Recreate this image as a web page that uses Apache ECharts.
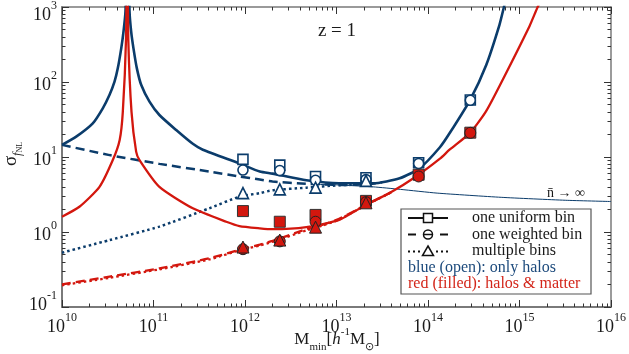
<!DOCTYPE html>
<html>
<head>
<meta charset="utf-8">
<script src="https://cdn.jsdelivr.net/npm/echarts@6/dist/echarts.min.js"></script>
<style>
  html, body { margin: 0; padding: 0; background: #fff; }
  #chart { width: 629px; height: 354px; }
</style>
</head>
<body>
<div id="chart"></div>
<script>
// values (M_min in h^-1 Msun, sigma_fNL)
var blueSolidM = [1.0e10, 1.43e10, 2.17e10, 2.79e10, 3.30e10, 3.75e10, 4.07e10, 4.44e10, 4.70e10, 4.94e10, 5.20e10, 5.47e10, 5.70e10, 6.04e10, 6.58e10, 7.35e10, 9.04e10, 1.16e11, 1.77e11, 2.69e11, 3.46e11, 8.7e11, 1.45e12, 2.0e12, 4.68e12, 1.07e13, 2.51e13, 4.9e13, 8.13e13, 1.35e14, 1.72e14, 2.88e14, 4.33e14, 6.03e14, 6.76e14, 7.59e14];
var blueSolidS = [14.5, 18.7, 28.1, 44.6, 67, 101, 152, 281, 469, 870, 8000, 870, 469, 281, 152, 91, 54.7, 36.3, 22.9, 15, 12.5, 8.2, 6.4, 6.0, 4.9, 4.46, 4.46, 5.2, 7.1, 13.5, 20.7, 57.5, 169, 575, 1000, 1800];

var redSolidM = [1.0e10, 1.55e10, 2.57e10, 3.59e10, 4.27e10, 4.62e10, 5.01e10, 5.15e10, 5.30e10, 5.75e10, 6.46e10, 7.03e10, 1.16e11, 2.69e11, 6.24e11, 8.7e11, 1.45e12, 2.0e12, 4.68e12, 1.07e13, 2.09e13, 3.8e13, 7.41e13, 1.35e14, 1.72e14, 2.88e14, 4.27e14, 6.03e14, 1.29e15, 1.58e15, 1.82e15];
var redSolidS = [1.6, 2.17, 4.0, 9.1, 16.9, 40, 380, 8000, 380, 40, 11.8, 9.1, 4.0, 2.07, 1.37, 1.2, 1.12, 1.09, 1.16, 1.45, 2.3, 3.3, 5.5, 9.5, 12.5, 21, 40, 88, 560, 1000, 1400];

var weightedM = [1.0e10, 3.31e10, 1.16e11, 4.07e11, 8.7e11, 1.45e12, 2.0e12, 4.68e12, 1.07e13, 2.0e13, 3.16e13];
var blueDashS = [14.5, 10.6, 8.1, 6.4, 5.5, 5.0, 4.7, 4.4, 4.24, 4.3, 4.6];

var multiM = [1.0e10, 3.31e10, 1.16e11, 4.07e11, 8.7e11, 1.45e12, 2.0e12, 4.68e12, 1.07e13, 2.0e13];
var blueDotS = [0.53, 0.78, 1.18, 2.07, 2.96, 3.3, 3.6, 3.9, 4.2, 4.3];

var redLowM = [1.0e10, 3.31e10, 1.16e11, 4.07e11, 8.7e11, 1.45e12, 2.0e12, 4.68e12, 7.08e12, 1.07e13, 2.09e13, 3.98e13];
var redDashS = [0.2, 0.254, 0.328, 0.446, 0.58, 0.68, 0.76, 1.09, 1.25, 1.5, 2.3, 3.4];
var redDotS = [0.195, 0.245, 0.318, 0.43, 0.57, 0.66, 0.74, 1.05, 1.22, 1.47, 2.28, 3.38];

var limitM = [6.31e12, 1.0e13, 2.51e13, 5.01e13, 1.26e14, 6.31e14, 3.16e15, 1.0e16];
var limitS = [4.3, 4.25, 4.0, 3.7, 3.3, 2.9, 2.65, 2.55];

var binM = [9.5e11, 2.4e12, 5.9e12, 2.1e13, 7.9e13, 2.9e14];
var blueSquare = [9.3, 7.8, 5.5, 5.3, 8.4, 57.5];
var blueCircle = [6.7, 6.6, 4.9, 5.0, 8.2, 57];
var blueTriangle = [3.3, 3.7, 3.9, 4.8, null, null];
var redSquare = [1.9, 1.37, 1.69, 2.6, 5.8, 21.1];
var redCircle = [0.59, 0.75, 1.37, 2.5, 5.5, 21.0];
var redTriangle = [0.63, 0.78, 1.16, 2.45, null, null];

var xMajor = [1e10, 1e11, 1e12, 1e13, 1e14, 1e15, 1e16];
var yMajor = [0.1, 1, 10, 100, 1000];
var yInnerLabels = [1, 10, 100];

var xMinor = [];
for (var e = 10; e < 16; e++) for (var m = 2; m <= 9; m++) xMinor.push(m * Math.pow(10, e));
var yMinor = [];
for (var e2 = -1; e2 < 3; e2++) for (var m2 = 2; m2 <= 9; m2++) yMinor.push(m2 * Math.pow(10, e2));

var BLUE = '#0b3c6b';
var RED = '#d3170e';
var GREY = '#7a7a7a';
var INK = '#1a1a1a';
var FONT = 'Liberation Serif';

function pairs(xs, ys) {
  var out = [];
  for (var i = 0; i < xs.length; i++) {
    if (ys[i] != null) out.push([xs[i], ys[i]]);
  }
  return out;
}

function curve(xs, ys, color, width, dash, z) {
  return {
    type: 'line', data: pairs(xs, ys), symbol: 'none', smooth: 0.2,
    lineStyle: { color: color, width: width, type: dash }, z: z, silent: true
  };
}

function marks(ys, symbol, size, fill, stroke, bw, z) {
  return {
    type: 'scatter', data: pairs(binM, ys), symbol: symbol, symbolSize: size,
    itemStyle: { color: fill, borderColor: stroke, borderWidth: bw, opacity: 1 }, z: z, silent: true
  };
}

function powLabel(v) {
  var e = Math.round(Math.log10(v));
  return '{b|10}{s|' + e + '}';
}
var labelRich = {
  b: { fontSize: 18, lineHeight: 24, verticalAlign: 'bottom', fontFamily: FONT, color: INK, fill: INK },
  s: { fontSize: 12, lineHeight: 12, verticalAlign: 'top', fontFamily: FONT, color: INK, fill: INK }
};

function xAx(pos, ticks, len, labels, lineW) {
  return {
    type: 'log', gridIndex: 0, position: pos, min: 1e10, max: 1e16,
    axisLine: { show: lineW > 0, lineStyle: { color: GREY, width: lineW || 1 } },
    axisTick: { show: true, inside: true, length: len, customValues: ticks, lineStyle: { color: '#333', width: 1 } },
    axisLabel: labels ? { show: true, customValues: xMajor, formatter: powLabel, rich: labelRich, margin: 5 } : { show: false },
    splitLine: { show: false }
  };
}
function yAx(pos, ticks, len, labels, lineW) {
  return {
    type: 'log', gridIndex: 0, position: pos, min: 0.1, max: 1000,
    axisLine: { show: lineW > 0, lineStyle: { color: GREY, width: lineW || 1 } },
    axisTick: { show: true, inside: true, length: len, customValues: ticks, lineStyle: { color: '#333', width: 1 } },
    axisLabel: labels ? { show: true, customValues: yInnerLabels, formatter: powLabel, rich: labelRich, margin: 5 } : { show: false },
    splitLine: { show: false }
  };
}

// end labels of the y axis are nudged inwards, as in the original figure
function endLabel(v, y) {
  return { type: 'text', x: 57, y: y, style: { text: powLabel(v), rich: labelRich, align: 'right', verticalAlign: 'middle' } };
}

var chart = echarts.init(document.getElementById('chart'), null, { renderer: 'canvas' });

var legendX = 401, legendY = 209;

chart.setOption({
  animation: false,
  backgroundColor: '#fff',
  textStyle: { fontFamily: FONT },
  grid: { left: 62, right: 18, top: 7, bottom: 47, containLabel: false, outerBoundsMode: 'none' },
  xAxis: [
    xAx('bottom', xMajor, 7, true, 2),
    xAx('bottom', xMinor, 3.5, false, 0),
    xAx('top', xMajor, 7, false, 1.5),
    xAx('top', xMinor, 3.5, false, 0)
  ],
  yAxis: [
    yAx('left', yMajor, 7, true, 2),
    yAx('left', yMinor, 3.5, false, 0),
    yAx('right', yMajor, 7, false, 1.5),
    yAx('right', yMinor, 3.5, false, 0)
  ],
  series: [
    curve(limitM, limitS, BLUE, 1, 'solid', 2),
    curve(weightedM, blueDashS, BLUE, 2.5, [9, 5], 3),
    curve(multiM, blueDotS, BLUE, 2.5, [2.5, 3], 3),
    curve(redLowM, redDashS, RED, 2.3, [9, 5], 3),
    curve(redLowM, redDotS, RED, 2.3, [2.5, 3], 3),
    curve(blueSolidM, blueSolidS, BLUE, 2.6, 'solid', 4),
    curve(redSolidM, redSolidS, RED, 2.3, 'solid', 4),
    marks(blueSquare, 'rect', 10, '#fff', BLUE, 1.6, 5),
    marks(blueCircle, 'circle', 10, '#fff', BLUE, 1.6, 5),
    marks(blueTriangle, 'triangle', 11, '#fff', BLUE, 1.6, 5),
    marks(redSquare, 'rect', 11, RED, '#333', 1, 6),
    marks(redCircle, 'circle', 11, RED, '#222', 1, 6),
    marks(redTriangle, 'triangle', 12, RED, '#222', 1, 7)
  ],
  graphic: { elements: [
    endLabel(yMajor[4], 12),
    endLabel(yMajor[0], 302),
    { type: 'text', x: 337, y: 31, style: { text: 'z = 1', font: '19px "Liberation Serif"', fill: INK, align: 'center', verticalAlign: 'middle' } },
    { type: 'text', x: 566, y: 193, style: { text: 'n\u0304 \u2192 \u221e', font: '14px "Liberation Serif"', fill: INK, align: 'center', verticalAlign: 'middle' } },
    { type: 'text', x: 13, y: 154, rotation: Math.PI / 2, style: {
        text: '{s|\u03c3}{f|f}{n|NL}', align: 'center', verticalAlign: 'middle',
        rich: {
          s: { fontSize: 19, lineHeight: 22, verticalAlign: 'top', fontFamily: FONT, fill: INK },
          f: { fontSize: 12, lineHeight: 12, verticalAlign: 'bottom', fontStyle: 'italic', fontFamily: FONT, fill: INK },
          n: { fontSize: 8, lineHeight: 8, verticalAlign: 'bottom', fontFamily: FONT, fill: INK }
        } } },
    { type: 'text', x: 337, y: 340, style: {
        text: '{m|M}{sb|min}{m|[}{i|h}{sp|-1}{m|M}{sb|\u2299}{m|]}', align: 'center', verticalAlign: 'middle',
        rich: {
          m: { fontSize: 17, lineHeight: 26, fontFamily: FONT, fill: INK },
          i: { fontSize: 17, lineHeight: 26, fontStyle: 'italic', fontFamily: FONT, fill: INK },
          sb: { fontSize: 11, lineHeight: 14, verticalAlign: 'bottom', fontFamily: FONT, fill: INK },
          sp: { fontSize: 11, lineHeight: 16, verticalAlign: 'top', fontFamily: FONT, fill: INK }
        } } },
    // legend box
    { type: 'rect', shape: { x: legendX, y: legendY, width: 190, height: 85 }, style: { fill: '#fff', stroke: '#555', lineWidth: 1.2 }, z: 20 },
    { type: 'line', shape: { x1: 408, y1: 218, x2: 448, y2: 218 }, style: { stroke: '#111', lineWidth: 2 }, z: 21 },
    { type: 'rect', shape: { x: 423.5, y: 213.5, width: 9, height: 9 }, style: { fill: '#fff', stroke: '#111', lineWidth: 1.5 }, z: 22 },
    { type: 'line', shape: { x1: 408, y1: 234.5, x2: 416, y2: 234.5 }, style: { stroke: '#111', lineWidth: 2 }, z: 21 },
    { type: 'line', shape: { x1: 440, y1: 234.5, x2: 448, y2: 234.5 }, style: { stroke: '#111', lineWidth: 2 }, z: 21 },
    { type: 'circle', shape: { cx: 428, cy: 234.5, r: 4.5 }, style: { fill: '#fff', stroke: '#111', lineWidth: 1.5 }, z: 22 },
    { type: 'line', shape: { x1: 423.5, y1: 234.5, x2: 432.5, y2: 234.5 }, style: { stroke: '#111', lineWidth: 1.5 }, z: 23 },
    { type: 'line', shape: { x1: 408, y1: 251.5, x2: 421, y2: 251.5 }, style: { stroke: '#111', lineWidth: 2, lineDash: [2, 3] }, z: 21 },
    { type: 'line', shape: { x1: 436, y1: 251.5, x2: 449, y2: 251.5 }, style: { stroke: '#111', lineWidth: 2, lineDash: [2, 3] }, z: 21 },
    { type: 'polygon', shape: { points: [[428, 246], [433.5, 255.5], [422.5, 255.5]] }, style: { fill: '#fff', stroke: '#111', lineWidth: 1.5 }, z: 22 },
    { type: 'text', x: 472, y: 218, style: { text: 'one uniform bin', font: '16px "Liberation Serif"', fill: INK, verticalAlign: 'middle' }, z: 22 },
    { type: 'text', x: 472, y: 234.5, style: { text: 'one weighted bin', font: '16px "Liberation Serif"', fill: INK, verticalAlign: 'middle' }, z: 22 },
    { type: 'text', x: 472, y: 251, style: { text: 'multiple bins', font: '16px "Liberation Serif"', fill: INK, verticalAlign: 'middle' }, z: 22 },
    { type: 'text', x: 408, y: 267.5, style: { text: 'blue (open): only halos', font: '16px "Liberation Serif"', fill: '#1c4a7c', verticalAlign: 'middle' }, z: 22 },
    { type: 'text', x: 408, y: 284, style: { text: 'red (filled): halos & matter', font: '16px "Liberation Serif"', fill: '#d3261a', verticalAlign: 'middle' }, z: 22 }
  ] }
});
</script>
</body>
</html>
